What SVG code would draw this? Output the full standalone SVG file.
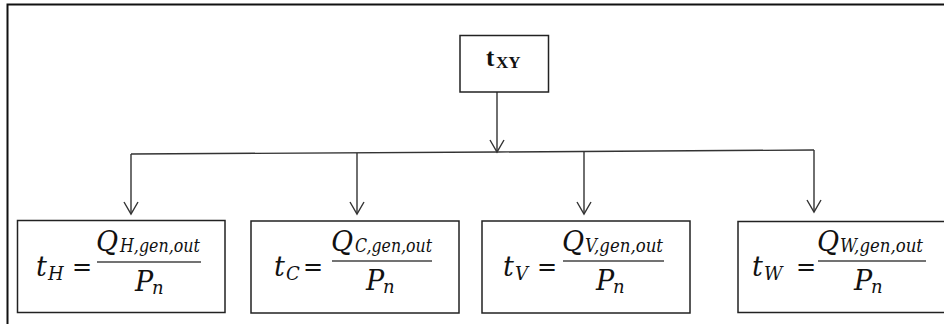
<svg xmlns="http://www.w3.org/2000/svg" width="944" height="324" viewBox="0 0 944 324">
<style>
.frame{stroke:#111;stroke-width:2;fill:none}
.box{fill:#fff;stroke:#222;stroke-width:1.5}
.conn{stroke:#333;stroke-width:1.4;fill:none}
.fl{stroke:#444;stroke-width:1.6}
.m{font-family:"DejaVu Serif","Liberation Serif",serif;font-style:italic;font-size:27px;fill:#111}
.s{font-family:"DejaVu Serif","Liberation Serif",serif;font-style:italic;font-size:18px;fill:#111}
.eq{font-family:"DejaVu Serif","Liberation Serif",serif;font-size:24px;fill:#111}
.tb{font-family:"Liberation Serif","Times New Roman",serif;font-weight:bold;fill:#111}
</style>
<defs>
<marker id="arr" markerUnits="userSpaceOnUse" markerWidth="20" markerHeight="20" viewBox="-14 -10 16 20" refX="0" refY="0" orient="auto">
<path d="M-12,-7 L0,0 L-12,7" fill="none" stroke="#333" stroke-width="1.4"/>
</marker>
</defs>
<rect width="944" height="324" fill="#fff"/>
<path class="frame" d="M7.5,324 L7.5,4.5 L944,4.5"/>
<g id="connectors">
<path class="conn" d="M497,92 L497,152" marker-end="url(#arr)"/>
<path class="conn" d="M131,154 L497,152 L814,150"/>
<path class="conn" d="M131,154 L131,214" marker-end="url(#arr)"/>
<path class="conn" d="M357,153 L357,214" marker-end="url(#arr)"/>
<path class="conn" d="M584,151.5 L584,214" marker-end="url(#arr)"/>
<path class="conn" d="M814,150 L814,212" marker-end="url(#arr)"/>
</g>
<g id="node-txy">
<rect class="box" x="460" y="35.5" width="88.5" height="56.5"/>
<text class="tb" x="486" y="66" font-size="25">t</text>
<text class="tb" x="496" y="68" font-size="17">XY</text>
</g>
<g id="node-tH">
<rect class="box" x="17.5" y="220.5" width="207.5" height="92"/>
<text class="m" x="36" y="276">t</text>
<text class="s" x="48" y="280">H</text>
<text class="eq" x="72" y="275">=</text>
<line class="fl" x1="97" y1="262" x2="201" y2="262"/>
<text class="m" x="96" y="251">Q</text>
<text class="s" x="120" y="252" textLength="80" lengthAdjust="spacingAndGlyphs">H,gen,out</text>
<text class="m" x="135" y="291">P</text>
<text class="s" x="152" y="294">n</text>
</g>
<g id="node-tC">
<rect class="box" x="251" y="221" width="208" height="92"/>
<text class="m" x="274" y="276">t</text>
<text class="s" x="286" y="280">C</text>
<text class="eq" x="303" y="275">=</text>
<line class="fl" x1="332" y1="261" x2="432" y2="261"/>
<text class="m" x="331" y="251">Q</text>
<text class="s" x="355" y="252" textLength="77" lengthAdjust="spacingAndGlyphs">C,gen,out</text>
<text class="m" x="366" y="290">P</text>
<text class="s" x="383" y="293">n</text>
</g>
<g id="node-tV">
<rect class="box" x="482" y="221" width="208" height="92"/>
<text class="m" x="503" y="276">t</text>
<text class="s" x="515" y="280">V</text>
<text class="eq" x="537" y="275">=</text>
<line class="fl" x1="563" y1="261" x2="664" y2="261"/>
<text class="m" x="562" y="251">Q</text>
<text class="s" x="585" y="252" textLength="78" lengthAdjust="spacingAndGlyphs">V,gen,out</text>
<text class="m" x="596" y="290">P</text>
<text class="s" x="613" y="293">n</text>
</g>
<g id="node-tW">
<rect class="box" x="738" y="221.5" width="210" height="91"/>
<text class="m" x="752" y="276">t</text>
<text class="s" x="764" y="280">W</text>
<text class="eq" x="796" y="275">=</text>
<line class="fl" x1="818" y1="261" x2="926" y2="261"/>
<text class="m" x="817" y="251">Q</text>
<text class="s" x="840" y="252" textLength="83" lengthAdjust="spacingAndGlyphs">W,gen,out</text>
<text class="m" x="854" y="290">P</text>
<text class="s" x="871" y="293">n</text>
</g>
</svg>
